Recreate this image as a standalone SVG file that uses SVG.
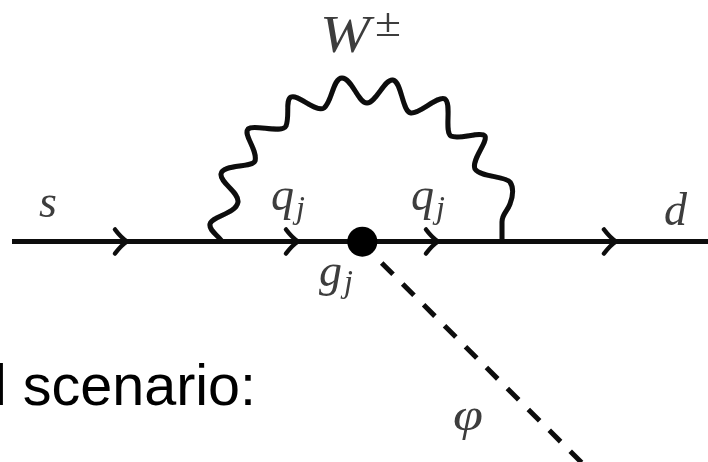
<svg xmlns="http://www.w3.org/2000/svg" width="708" height="462" viewBox="0 0 708 462">
<style>
.l{fill:none;stroke:#0a0a0a;stroke-width:5}
.w{stroke-linejoin:round;stroke-linecap:round}
.a{stroke-width:4.5;stroke-linecap:round;stroke-linejoin:miter}
.m{font-family:"Liberation Serif",serif;font-style:italic;fill:#3c3c3c}
.sub{font-size:32px}
.b{filter:url(#soft)}
</style>
<defs>
<filter id="soft" x="-5%" y="-5%" width="110%" height="110%"><feGaussianBlur stdDeviation="0.7"/></filter>
<path id="chev" d="M-12-12 Q-6-4 0 0 Q-6 4 -12 12"/>
</defs>
<rect width="708" height="462" fill="#fff"/>
<g id="connectors" class="b">
<path id="fermion" class="l" d="M12 241.5H708"/>
<g class="l a">
<use href="#chev" x="127" y="241.5"/>
<use href="#chev" x="298" y="241.5"/>
<use href="#chev" x="438" y="241.5"/>
<use href="#chev" x="616" y="241.5"/>
</g>
<path id="w-boson" class="l w" d="M221 240C216 234 209 230 210 224C212 216 236 214 238 202C239 192 220 183 221 174C222 164 252 168 255 161C258 150 243 135 248 129C254 124 282 134 286 126C290 116 285 100 291 97C298 94 316 113 324 108C332 102 333 78 342 78C352 78 358 103 367 103C376 103 385 78 393 80C402 82 402 112 411 113C420 114 438 95 445 99C452 104 444 132 451 136C459 140 481 131 485 136C488 142 471 160 475 169C480 177 505 176 510 182C514 188 513 196 510 204C507 212 502 214 502 222V240"/>
<path id="scalar" class="l" stroke-dasharray="16 13.6" d="M381.7 263L582 463"/>
</g>
<g id="vertex" class="b"><circle cx="362.3" cy="241.7" r="15" fill="#000"/></g>
<g id="label-w" class="b">
<text class="m" x="320" y="52" font-size="52" textLength="50" lengthAdjust="spacingAndGlyphs">W</text>
<text class="m" x="375" y="36" font-size="40" textLength="26" lengthAdjust="spacingAndGlyphs" style="font-style:normal">±</text>
</g>
<g id="label-s" class="b"><text class="m" x="39" y="217" font-size="46">s</text></g>
<g id="label-q1" class="b"><text class="m" x="271" y="210" font-size="46">q</text><text class="m sub" x="296" y="218">j</text></g>
<g id="label-q2" class="b"><text class="m" x="411" y="210" font-size="46">q</text><text class="m sub" x="436" y="218">j</text></g>
<g id="label-g" class="b"><text class="m" x="319" y="286" font-size="46">g</text><text class="m sub" x="344" y="292">j</text></g>
<g id="label-d" class="b"><text class="m" x="664" y="225" font-size="46">d</text></g>
<g id="label-phi" class="b"><text class="m" x="453" y="430" font-size="46" textLength="30" lengthAdjust="spacingAndGlyphs">φ</text></g>
<text id="caption" x="-6" y="405" font-family="'Liberation Sans',Arial,sans-serif" font-size="57.5" fill="#000">l scenario:</text>
</svg>
